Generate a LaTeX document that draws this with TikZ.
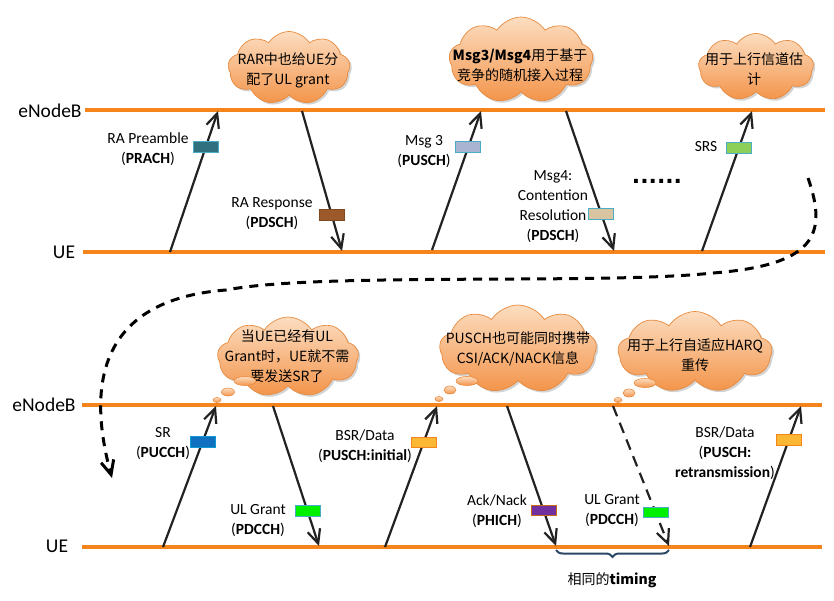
\documentclass[tikz,border=0pt]{standalone}
\usepackage{fontspec}
\setmainfont{Carlito}
\newfontfamily\cjk{Noto Sans CJK SC}
\newfontfamily\dejavu{DejaVu Sans}
\usetikzlibrary{arrows.meta, shapes.symbols, shapes.geometric, shadows, decorations.pathreplacing, positioning}
\definecolor{laneorange}{HTML}{F6841C}
\definecolor{arrowgray}{HTML}{222222}
\definecolor{cloudtop}{HTML}{FCDDC0}
\definecolor{cloudbot}{HTML}{F3944A}
\definecolor{cloudedge}{HTML}{E88A3E}
\definecolor{bracecol}{HTML}{2A4766}
\definecolor{prachcol}{HTML}{31707F}
\definecolor{pdschcol}{HTML}{9C5A2A}
\definecolor{msgthree}{HTML}{A9B4D2}
\definecolor{msgfour}{HTML}{D8C4A0}
\definecolor{srscol}{HTML}{8CD05A}
\definecolor{pucchcol}{HTML}{1170C0}
\definecolor{grantcol}{HTML}{00F000}
\definecolor{bsrcol}{HTML}{FBB834}
\definecolor{phichcol}{HTML}{7030A0}
\definecolor{boxedge}{HTML}{4BACC6}
\tikzstyle{lane} = [line width=3.3pt, draw=laneorange]
\tikzstyle{msg} = [line width=2.2pt, draw=arrowgray, -{Straight Barb[length=14pt,width=13pt]}]
\tikzstyle{chan} = [rectangle, minimum width=25pt, minimum height=10.5pt, inner sep=0pt, line width=0.9pt, solid]
\tikzstyle{lbl} = [align=center, font=\fontsize{15.5}{20}\selectfont]
\tikzstyle{side} = [font=\fontsize{19.5}{22}\selectfont]
\tikzstyle{bubble} = [
                cloud,
                cloud puffs=9,
                cloud puff arc=115,
                inner sep=0pt,
                draw=cloudedge,
                line width=0.7pt,
                top color=cloudtop,
                bottom color=cloudbot,
                drop shadow={shadow xshift=2pt, shadow yshift=-2pt, opacity=0.35}
            ]
\tikzstyle{puff} = [ellipse, inner sep=0pt, draw=cloudedge, line width=0.6pt, top color=cloudtop, bottom color=cloudbot]
\tikzstyle{note} = [align=center, font=\cjk\fontsize{14}{20}\selectfont]

\begin{document}
\begin{tikzpicture}[x=1pt, y=-1pt]
\useasboundingbox (0,0) rectangle (834,600);
% upper exchange
\node (enbA) [side] at (50,111) {eNodeB};
\node (ueA) [side] at (64,252) {UE};
\draw [lane] (85,110) coordinate (enbAl) -- (825,110) coordinate (enbAr);
\draw [lane] (83,252) coordinate (ueAl) -- (825,252) coordinate (ueAr);
\coordinate (u1) at (170,252); \coordinate (e1) at (218,111);
\coordinate (e2) at (302,111); \coordinate (u2) at (342,251);
\coordinate (u3) at (432,250); \coordinate (e3) at (481,111);
\coordinate (e4) at (566,111); \coordinate (u4) at (614,251);
\coordinate (u5) at (702,251); \coordinate (e5) at (752,111);
\draw [msg] (u1) -- node [chan, pos=0.746, fill=prachcol, draw=boxedge] (prach) {} (e1);
\draw [msg] (e2) -- node [chan, pos=0.743, fill=pdschcol, draw=pdschcol!80!black] (rarsp) {} (u2);
\draw [msg] (u3) -- node [chan, pos=0.743, fill=msgthree, draw=boxedge] (msg3) {} (e3);
\draw [msg] (e4) -- node [chan, pos=0.737, fill=msgfour, draw=boxedge] (msg4) {} (u4);
\draw [msg] (u5) -- node [chan, pos=0.736, fill=srscol, draw=boxedge] (srs) {} (e5);
\node (prachtxt) [lbl] at (148,149) {RA Preamble\\(\textbf{PRACH})};
\node (rarsptxt) [lbl] at (272,214) {RA Response\\(\textbf{PDSCH})};
\node (msg3txt) [lbl] at (424,152) {Msg 3\\(\textbf{PUSCH})};
\node (msg4txt) [lbl] at (553,207) {Msg4:\\Contention\\Resolution\\(\textbf{PDSCH})};
\node (srstxt) [lbl] at (706,147) {SRS};
\node (dots) [font=\dejavu\bfseries\fontsize{22}{22}\selectfont] at (657,181) {......};
\node (rarcloud) [bubble, minimum width=122pt, minimum height=73pt] at (289,68) {};
\node (rartxt) [note] at (288,70) {RAR中也给UE分\\配了UL grant};
\node (msgcloud) [bubble, minimum width=144pt, minimum height=86pt] at (521,60) {};
\node (msgtxt) [note] at (520,65) {\textbf{Msg3/Msg4}用于基于\\竞争的随机接入过程};
\node (srscloud) [bubble, minimum width=115pt, minimum height=67pt] at (756,67) {};
\node (srsnote) [note] at (754,69) {用于上行信道估\\计};
% lower exchange
\node (enbB) [side] at (44,405) {eNodeB};
\node (ueB) [side] at (57,546) {UE};
\draw [lane] (82,405) coordinate (enbBl) -- (822,405) coordinate (enbBr);
\draw [lane] (82,547) coordinate (ueBl) -- (822,547) coordinate (ueBr);
\coordinate (u6) at (163,547); \coordinate (e6) at (216,406);
\coordinate (e7) at (273,406); \coordinate (u7) at (319,546);
\coordinate (u8) at (385,547); \coordinate (e8) at (437,406);
\coordinate (e9) at (507,406); \coordinate (u9) at (556,546);
\coordinate (e10) at (613,406); \coordinate (u10) at (669,546);
\coordinate (u11) at (750,547); \coordinate (e11) at (801,406);
\draw [msg] (u6) -- node [chan, pos=0.746, fill=pucchcol, draw=pucchcol!70!cyan] (pucch) {} (e6);
\draw [msg] (e7) -- node [chan, pos=0.75, fill=grantcol, draw=boxedge] (grant) {} (u7);
\draw [msg] (u8) -- node [chan, pos=0.74, fill=bsrcol, draw=laneorange] (bsr) {} (e8);
\draw [msg] (e9) -- node [chan, pos=0.745, fill=phichcol, draw=laneorange!80!black] (phich) {} (u9);
\draw [msg, dashed, dash pattern=on 11pt off 7pt] (e10) -- node [chan, pos=0.76, fill=grantcol, draw=boxedge] (regrant) {} (u10);
\draw [msg] (u11) -- node [chan, pos=0.76, fill=bsrcol, draw=laneorange] (rebsr) {} (e11);
\node (pucchtxt) [lbl] at (163,444) {SR\\(\textbf{PUCCH})};
\node (granttxt) [lbl] at (258,521) {UL Grant\\(\textbf{PDCCH})};
\node (bsrtxt) [lbl] at (365,446) {BSR/Data\\(\textbf{PUSCH:initial})};
\node (phichtxt) [lbl] at (497,511) {Ack/Nack\\(\textbf{PHICH})};
\node (regranttxt) [lbl] at (612,511) {UL Grant\\(\textbf{PDCCH})};
\node (rebsrtxt) [lbl] at (725,453) {BSR/Data\\(\textbf{PUSCH:}\\\textbf{retransmission})};
\node (srcloud) [bubble, minimum width=141pt, minimum height=80pt] at (288,357) {};
\node (srnote) [note] at (287,356) {当UE已经有UL\\Grant时，UE就不需\\要发送SR了};
\node (srpuffa) [puff, minimum width=8pt, minimum height=5pt] at (217,400) {};
\node (srpuffb) [puff, minimum width=13pt, minimum height=8pt] at (228,392) {};
\node (srpuffc) [puff, minimum width=22pt, minimum height=9pt] at (245,381) {};
\node (csicloud) [bubble, minimum width=157pt, minimum height=88pt] at (518,349) {};
\node (csinote) [note] at (518,349) {PUSCH也可能同时携带\\CSI/ACK/NACK信息};
\node (csipuffa) [puff, minimum width=8pt, minimum height=5pt] at (439,399) {};
\node (csipuffb) [puff, minimum width=12pt, minimum height=8pt] at (450,390) {};
\node (csipuffc) [puff, minimum width=22pt, minimum height=9pt] at (467,381) {};
\node (harqcloud) [bubble, minimum width=154pt, minimum height=81pt] at (695,352) {};
\node (harqnote) [note] at (695,355) {用于上行自适应HARQ\\重传};
\node (harqpuffa) [puff, minimum width=8pt, minimum height=5pt] at (618,400) {};
\node (harqpuffb) [puff, minimum width=12pt, minimum height=8pt] at (629,393) {};
\node (harqpuffc) [puff, minimum width=22pt, minimum height=9pt] at (645,383) {};
\draw [decorate, decoration={brace, mirror, amplitude=7pt}, line width=2pt, draw=bracecol] (u9) ++(0,4) coordinate (bracel) -- (669,550) coordinate (bracer);
\node (timing) [font=\cjk\fontsize{14}{16}\selectfont] at (612,580) {相同的\textbf{timing}};
% jump from the upper to the lower exchange
\coordinate (loopa) at (808,178);
\coordinate (loopb) at (112,478);
\draw [line width=3pt, dash pattern=on 9pt off 7pt, -{Straight Barb[length=14pt,width=13pt]}] (loopa) .. controls (828,235) and (815,265) .. (713,273) .. controls (600,285) and (320,272) .. (226,290) .. controls (95,300) and (88,390) .. (loopb);
\end{tikzpicture}
\end{document}
